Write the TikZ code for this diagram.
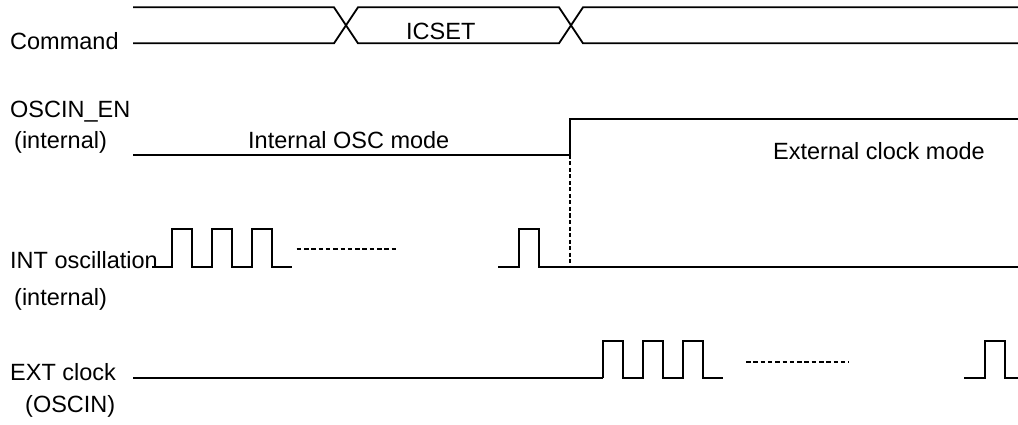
\documentclass[tikz,border=0pt]{standalone}
\usepackage{fontspec}
\setmainfont{Liberation Sans}
\begin{document}
\begin{tikzpicture}[x=1pt,y=-1pt,
  lbl/.style={anchor=base west,inner sep=0pt,font=\fontsize{23.5}{28}\selectfont},
  wave/.style={line width=1.8pt,line join=miter},
  pulse/.style={line width=2.2pt,line join=miter},
  dots/.style={line width=1.8pt,dash pattern=on 4.5pt off 2.8pt},
  vdash/.style={line width=1.6pt,dash pattern=on 4pt off 2.5pt}]
\useasboundingbox (0,0) rectangle (1018,425);
% labels
\node[lbl] (cmd) at (10,49.3) {Command};
\node[lbl] (icset) at (406,40) {ICSET};
\node[lbl] (oscen) at (10,117.7) {OSCIN\_EN};
\node[lbl] (oscint) at (14,148.3) {(internal)};
\node[lbl] (intmode) at (248,148.3) {Internal OSC mode};
\node[lbl] (extmode) at (773,159.3) {External clock mode};
\node[lbl] (intosc) at (10,268) {INT oscillation};
\node[lbl] (intint) at (14,305) {(internal)};
\node[lbl] (extclk) at (10,380) {EXT clock};
\node[lbl] (oscin) at (25,412) {(OSCIN)};
% command bus
\draw[wave] (133,7.3) -- (334,7.3) -- (358,43.3) -- (559,43.3) -- (583,7.3) -- (1018,7.3);
\draw[wave] (133,43.3) -- (334,43.3) -- (358,7.3) -- (559,7.3) -- (583,43.3) -- (1018,43.3);
% OSCIN_EN
\coordinate (edge) at (570,155);
\coordinate (edgelow) at (570,266.7);
\draw[wave] (133,155) -- (edge);
\draw[pulse] (edge) -- (570,119) -- (1018,119);
\draw[vdash] (edge) -- (edgelow);
% INT oscillation
\draw[pulse] (152,266.7) -- (171.7,266.7) -- (171.7,229) -- (191.7,229) -- (191.7,266.7)
  -- (211.7,266.7) -- (211.7,229) -- (231.7,229) -- (231.7,266.7)
  -- (251.7,266.7) -- (251.7,229) -- (271.7,229) -- (271.7,266.7) -- (291.7,266.7);
\draw[dots] (296.7,249.3) -- (398.3,249.3);
\draw[pulse] (498,266.7) -- (519,266.7) -- (519,229) -- (539,229) -- (539,266.7) -- (edgelow);
\draw[wave] (edgelow) -- (1018,266.7);
% EXT clock
\draw[wave] (133,377.7) -- (602.7,377.7);
\draw[pulse] (602.7,377.7) -- (602.7,340.7) -- (622.7,340.7) -- (622.7,377.7)
  -- (642.7,377.7) -- (642.7,340.7) -- (663,340.7) -- (663,377.7)
  -- (682.7,377.7) -- (682.7,340.7) -- (703,340.7) -- (703,377.7) -- (723.3,377.7);
\draw[dots] (746,361.7) -- (849,361.7);
\draw[pulse] (964,377.7) -- (985,377.7) -- (985,340.7) -- (1005,340.7) -- (1005,377.7) -- (1018,377.7);
\end{tikzpicture}
\end{document}
